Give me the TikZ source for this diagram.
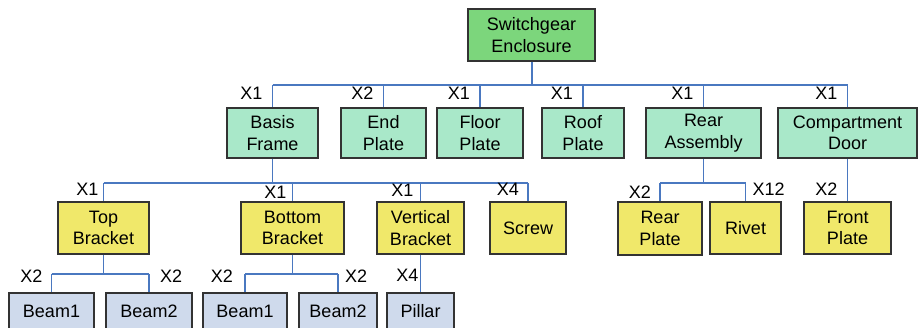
\documentclass[tikz,border=0pt]{standalone}
\usepackage{fontspec}
\setmainfont{Liberation Sans}
\usepackage{xcolor}
\usepackage{tikz}
\usetikzlibrary{positioning,calc}
\definecolor{rootgreen}{HTML}{7CD67C}
\definecolor{mint}{HTML}{A9E8C9}
\definecolor{lemon}{HTML}{F0E86A}
\definecolor{steel}{HTML}{CFDAEC}
\definecolor{busblue}{HTML}{4A78C0}
\definecolor{edge}{HTML}{333333}
\tikzset{
  partbox/.style={
    rectangle, draw=edge, fill=#1, line width=1.2pt,
    font=\fontsize{18}{21.6}\selectfont, align=center,
    inner sep=0pt, minimum height=50pt
  },
  partbox/.default=mint,
  busline/.style={draw=busblue, line width=1.5pt},
  mainbus/.style={draw=busblue, line width=2pt},
  qty/.style={font=\fontsize{18}{21.6}\selectfont, inner sep=0pt},
}

\begin{document}
\begin{tikzpicture}[x=1pt, y=-1pt]
  \useasboundingbox (0,0) rectangle (920,328);
  \clip (0,0) rectangle (920,328);
  % top level
  \node[partbox=rootgreen, minimum width=127pt, minimum height=52pt] (root) at (531.5,35) {Switchgear\\Enclosure};
  \coordinate (rootbus) at (531.5,85);
  % level 1
  \node[partbox, minimum width=91pt] (basis) at (272.5,133) {Basis\\Frame};
  \node[partbox, minimum width=85pt] (endp) at (383.5,133) {End\\Plate};
  \node[partbox, minimum width=86pt] (floor) at (480,133) {Floor\\Plate};
  \node[partbox, minimum width=82pt] (roof) at (583,133) {Roof\\Plate};
  \node[partbox, minimum width=115pt] (rear) at (703.5,133) {Rear\\Assembly};
  \node[partbox, minimum width=139pt] (door) at (847.5,133) {Compartment\\Door};
  \draw[mainbus] (root) -- (rootbus);
  \draw[mainbus] (rootbus -| basis) -- (rootbus -| door);
  \foreach \c in {basis,endp,floor,roof,rear,door}
    \draw[busline] (rootbus -| \c) -- (\c.north);
  \node[qty, anchor=base east] (qbasis) at ([xshift=-10pt, yshift=8pt]basis.north) {X1};
  \node[qty, anchor=base east] (qendp) at ([xshift=-10pt, yshift=8pt]endp.north) {X2};
  \node[qty, anchor=base east] (qfloor) at ([xshift=-10pt, yshift=8pt]floor.north) {X1};
  \node[qty, anchor=base east] (qroof) at ([xshift=-10pt, yshift=8pt]roof.north) {X1};
  \node[qty, anchor=base east] (qrear) at ([xshift=-10pt, yshift=8pt]rear.north) {X1};
  \node[qty, anchor=base east] (qdoor) at ([xshift=-10pt, yshift=8pt]door.north) {X1};
  % level 2
  \coordinate (framebus) at (272.5,183);
  \coordinate (rearbus) at (703.5,183);
  \node[partbox=lemon, minimum width=91pt, minimum height=52pt] (topbr) at (103.5,228) {Top\\Bracket};
  \node[partbox=lemon, minimum width=103pt, minimum height=52pt] (botbr) at (292.5,228) {Bottom\\Bracket};
  \node[partbox=lemon, minimum width=87pt, minimum height=52pt] (vertbr) at (420.5,228) {Vertical\\Bracket};
  \node[partbox=lemon, minimum width=76pt, minimum height=52pt] (screw) at (528,228) {Screw};
  \node[partbox=lemon, minimum width=84pt, minimum height=53pt] (rearpl) at (660,228.5) {Rear\\Plate};
  \node[partbox=lemon, minimum width=71pt, minimum height=52pt] (rivet) at (745.5,228) {Rivet};
  \node[partbox=lemon, minimum width=87pt, minimum height=52pt] (frontpl) at (847.5,228) {Front\\Plate};
  \draw[busline] (basis) -- (framebus);
  \draw[busline] (framebus -| topbr) -- (framebus -| screw);
  \foreach \c in {topbr,botbr,vertbr,screw}
    \draw[busline] (framebus -| \c) -- (\c.north);
  \draw[busline] (rear) -- (rearbus);
  \draw[busline] (rearbus -| rearpl) -- (rearbus -| rivet);
  \foreach \c in {rearpl,rivet}
    \draw[busline] (rearbus -| \c) -- (\c.north);
  \draw[busline] (door) -- (frontpl);
  \node[qty, anchor=base east] (qtopbr) at ([xshift=-5pt, yshift=6pt]topbr.north) {X1};
  \node[qty, anchor=base east] (qbotbr) at ([xshift=-6pt, yshift=3pt]botbr.north) {X1};
  \node[qty, anchor=base east] (qvertbr) at ([xshift=-7pt, yshift=5pt]vertbr.north) {X1};
  \node[qty, anchor=base east] (qscrew) at ([xshift=-9pt, yshift=6pt]screw.north) {X4};
  \node[qty, anchor=base east] (qrearpl) at ([xshift=-9pt, yshift=3pt]rearpl.north) {X2};
  \node[qty, anchor=base west] (qrivet) at ([xshift=7pt, yshift=6pt]rivet.north) {X12};
  \node[qty, anchor=base east] (qfrontpl) at ([xshift=-10pt, yshift=6pt]frontpl.north) {X2};
  % level 3 (cut off at the bottom edge)
  \coordinate (topbus) at (103.5,274);
  \coordinate (botbus) at (292.5,274);
  \node[partbox=steel, minimum width=85pt, minimum height=36pt] (beamA) at (51.5,311) {Beam1};
  \node[partbox=steel, minimum width=86pt, minimum height=36pt] (beamB) at (149,311) {Beam2};
  \node[partbox=steel, minimum width=84pt, minimum height=36pt] (beamC) at (245,311) {Beam1};
  \node[partbox=steel, minimum width=78pt, minimum height=36pt] (beamD) at (338,311) {Beam2};
  \node[partbox=steel, minimum width=67pt, minimum height=36pt] (pillar) at (420.5,311) {Pillar};
  \draw[busline] (topbr) -- (topbus);
  \draw[busline] (topbus -| beamA) -- (topbus -| beamB);
  \foreach \c in {beamA,beamB}
    \draw[busline] (topbus -| \c) -- (\c.north);
  \draw[busline] (botbr) -- (botbus);
  \draw[busline] (botbus -| beamC) -- (botbus -| beamD);
  \foreach \c in {beamC,beamD}
    \draw[busline] (botbus -| \c) -- (\c.north);
  \draw[busline] (vertbr) -- (pillar);
  \node[qty, anchor=base east] (qbeamA) at ([xshift=-9pt, yshift=10pt]beamA.north) {X2};
  \node[qty, anchor=base west] (qbeamB) at ([xshift=11pt, yshift=10pt]beamB.north) {X2};
  \node[qty, anchor=base east] (qbeamC) at ([xshift=-12pt, yshift=10pt]beamC.north) {X2};
  \node[qty, anchor=base west] (qbeamD) at ([xshift=7pt, yshift=10pt]beamD.north) {X2};
  \node[qty, anchor=base east] (qpillar) at ([xshift=-2pt, yshift=11pt]pillar.north) {X4};
\end{tikzpicture}
\end{document}
